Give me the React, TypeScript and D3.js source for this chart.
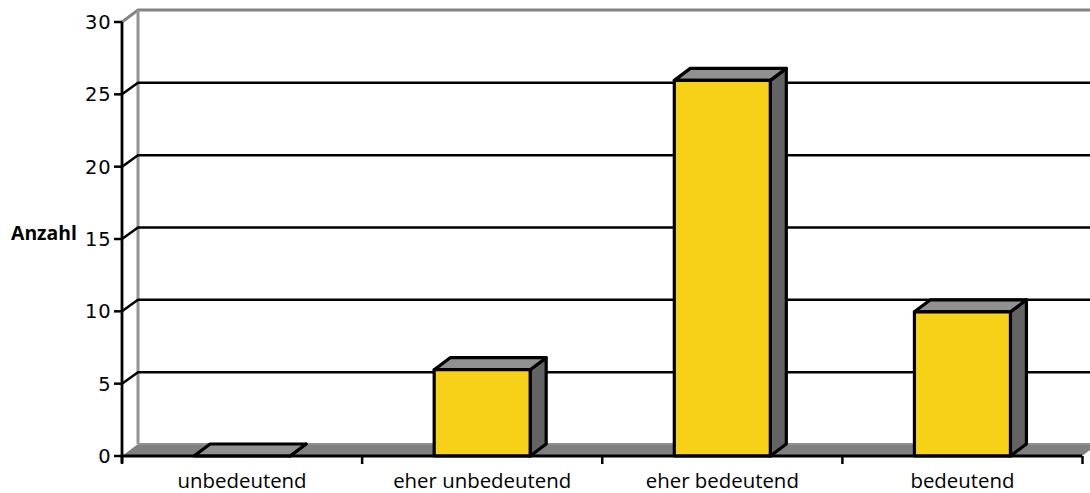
import React from "react";
import * as d3 from "d3";

const categories = ["unbedeutend", "eher unbedeutend", "eher bedeutend", "bedeutend"];
const counts = [0, 6, 26, 10];
const yTicks = [0, 5, 10, 15, 20, 25, 30];

const W = 1090, H = 493;
const x = d3.scaleBand<string>().domain(categories).range([122, 1082.5]).paddingInner(0).paddingOuter(0);
const y = d3.scaleLinear().domain([0, 30]).range([456, 22]);
const dx = 16, dy = -12;
const barW = 96;
const pts = (p: number[][]) => p.map((a) => a.join(",")).join(" ");

export default function App() {
  const step = x.step();
  const edges = categories.map((c) => x(c)!).concat([1082.5]);
  return (
    <svg width={W} height={H} style={{ position: "absolute", left: 0, top: 0, background: "#fff" }}>
      {/* floor */}
      <polygon points={pts([[122, 456], [122 + dx, 456 + dy], [1082 + dx, 456 + dy], [1082, 456]])} fill="#808080" />
      <line x1={122 + dx} x2={1090} y1={456 + dy} y2={456 + dy} stroke="#909090" strokeWidth={2} />
      {/* back wall edges */}
      <path d={`M${122},${y(30)} L${122 + dx},${y(30) + dy} H1090`} fill="none" stroke="#848484" strokeWidth={3} />
      <line x1={122 + dx} x2={122 + dx} y1={y(30) + dy} y2={456 + dy} stroke="#949494" strokeWidth={3} />
      {/* gridlines */}
      {yTicks.filter((t) => t > 0 && t < 30).map((t) => (
        <path key={t} d={`M${122},${y(t)} L${122 + dx},${y(t) + dy + 0.5} H1090`} fill="none" stroke="#000" strokeWidth={2.5} />
      ))}
      {/* bars */}
      {categories.map((c, i) => {
        const v = counts[i];
        const left = x(c)! + (step - barW) / 2;
        const right = left + barW;
        const top = y(v) + (v > 0 ? 0.5 : 0);
        const base = y(0);
        return (
          <g key={c} stroke="#000" strokeWidth={3.2} strokeLinejoin="round">
            <polygon points={pts([[right, top], [right + dx, top + dy], [right + dx, base + dy], [right, base]])} fill="#636363" />
            <polygon points={pts([[left, top], [left + dx, top + dy], [right + dx, top + dy], [right, top]])} fill="#919191" />
            {v > 0 && <rect x={left} y={top} width={barW} height={base - top} fill="#f7d117" />}
          </g>
        );
      })}
      {/* axes */}
      <line x1={122} x2={122} y1={y(30)} y2={463} stroke="#000" strokeWidth={2.8} />
      <line x1={122} x2={1082} y1={456} y2={456} stroke="#000" strokeWidth={3} />
      {yTicks.map((t) => (
        <g key={t}>
          <line x1={114} x2={122} y1={y(t)} y2={y(t)} stroke="#000" strokeWidth={2.5} />
          <text x={111.5} y={y(t) + 7} textAnchor="end" fontFamily="DejaVu Sans" fontSize={19.5} letterSpacing={0.8} fill="#000">{t}</text>
        </g>
      ))}
      {edges.map((e, i) => (
        <line key={i} x1={e} x2={e} y1={456} y2={464} stroke="#000" strokeWidth={2.5} />
      ))}
      {categories.map((c) => (
        <text key={c} x={x(c)! + step / 2} y={488} textAnchor="middle" fontFamily="Open Sans" fontSize={20.4} fill="#000">{c}</text>
      ))}
      <text x={11} y={240} fontFamily="Open Sans" fontWeight={700} fontSize={19.4} fill="#000">Anzahl</text>
    </svg>
  );
}
